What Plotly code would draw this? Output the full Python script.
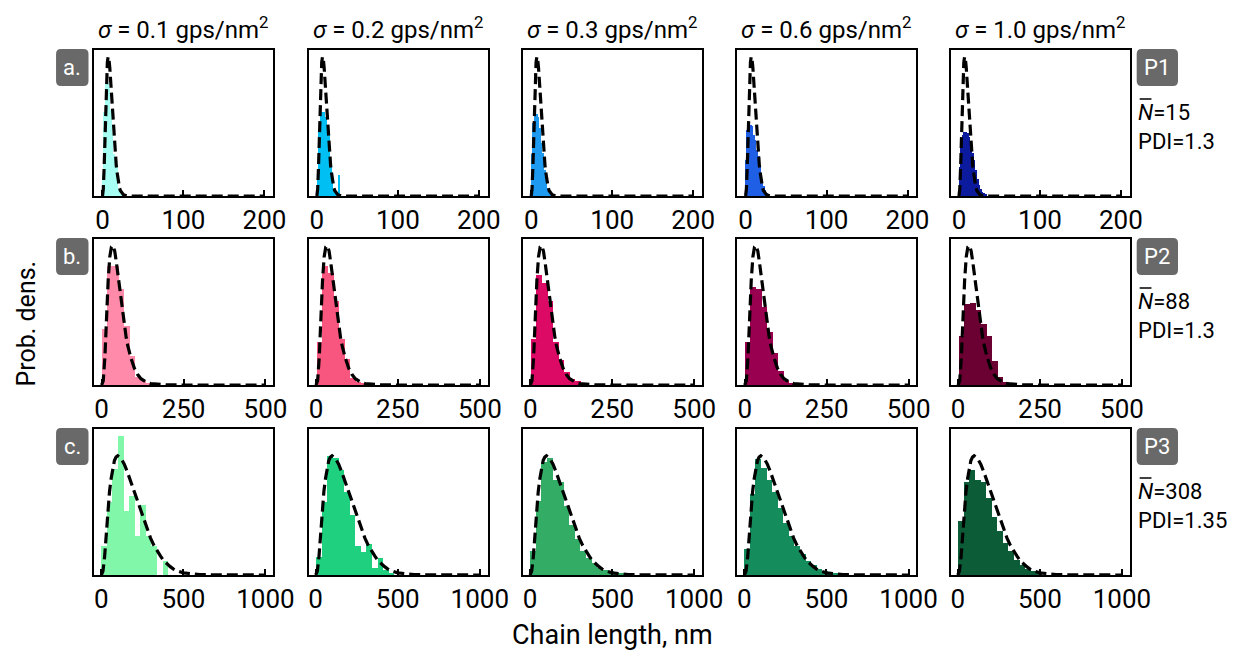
import plotly.graph_objects as go

W, H = 1258, 651

# ---------------- data ----------------
sigma_labels = ["0.1", "0.2", "0.3", "0.6", "1.0"]
row_letters = ["a.", "b.", "c."]
polymer_labels = ["P1", "P2", "P3"]
mean_lengths = ["15", "88", "308"]
pdi_values = ["1.3", "1.3", "1.35"]

row_xticks = [[0, 100, 200], [0, 250, 500], [0, 500, 1000]]
row_xrange = [[-10, 211], [-22, 524], [-42, 1048]]

# histogram bins (start, width) per row
row_bin_start = [0, 2, 2]
row_bin_width = [2, 17, 34]

hist_a = [
    [0.15, 0.6, 0.8, 0.81, 0.78, 0.62, 0.45, 0.3, 0.22, 0.21, 0.05, 0.01],
    [0.15, 0.47, 0.6, 0.6, 0.6, 0.57, 0.46, 0.44, 0.21, 0.1, 0.04, 0.02, 0.0, 0.15],
    [0.3, 0.52, 0.58, 0.59, 0.57, 0.49, 0.38, 0.31, 0.19, 0.1, 0.06, 0.03, 0.02],
    [0.26, 0.47, 0.5, 0.51, 0.5, 0.44, 0.4, 0.33, 0.29, 0.21, 0.12, 0.07, 0.04, 0.02, 0.01],
    [0.21, 0.4, 0.44, 0.46, 0.46, 0.45, 0.42, 0.37, 0.31, 0.26, 0.19, 0.12, 0.08, 0.05, 0.03, 0.02, 0.01],
]
hist_b = [
    [0.4, 0.85, 0.85, 0.69, 0.42, 0.21, 0.06, 0.03, 0.01],
    [0.31, 0.85, 0.8, 0.6, 0.33, 0.19, 0.05, 0.02, 0.01],
    [0.33, 0.79, 0.73, 0.6, 0.31, 0.18, 0.09, 0.04, 0.03, 0.015],
    [0.31, 0.7, 0.69, 0.56, 0.38, 0.23, 0.1, 0.03, 0.01],
    [0.35, 0.58, 0.59, 0.54, 0.44, 0.35, 0.17, 0.06, 0.02],
]
hist_c = [
    [0.24, 0.61, 0.89, 1.17, 0.54, 0.66, 0.33, 0.59, 0.33, 0.24, 0.0, 0.12, 0.0],
    [0.15, 0.61, 1.0, 0.98, 0.88, 0.70, 0.50, 0.24, 0.19, 0.26, 0.06, 0.14, 0.04, 0.02],
    [0.2, 0.62, 0.95, 0.98, 0.8, 0.78, 0.58, 0.42, 0.3, 0.2, 0.14, 0.1, 0.06, 0.04, 0.03, 0.02, 0.01],
    [0.22, 0.68, 0.97, 0.9, 0.8, 0.7, 0.56, 0.44, 0.33, 0.24, 0.18, 0.12, 0.08, 0.05, 0.03, 0.02, 0.01],
    [0.45, 0.78, 0.88, 0.80, 0.78, 0.65, 0.49, 0.37, 0.27, 0.2, 0.13, 0.08, 0.05, 0.035, 0.02],
]
row_hists = [hist_a, hist_b, hist_c]

# theoretical distributions (dashed), relative density
curve_a_x = [0, 1, 2, 3, 4, 5, 6, 7, 8, 9, 10, 11, 12, 13, 14, 15, 16, 17, 18, 19, 20, 21, 22, 24, 26, 30, 35, 60, 100, 150, 200]
curve_a_y = [0, 0.05, 0.2, 0.42, 0.65, 0.84, 0.96, 1.0, 0.98, 0.92, 0.83, 0.73, 0.63, 0.53, 0.44, 0.36, 0.28, 0.22, 0.17, 0.12,
             0.09, 0.06, 0.04, 0.02, 0.008, 0.002, 0, 0, 0, 0, 0]
curve_b_x = [0, 5, 10, 15, 20, 25, 30, 35, 40, 45, 50, 55, 60, 65, 70, 75, 80, 85, 90, 100, 110, 120, 130, 140, 150, 175, 200,
             250, 300, 400, 500]
curve_b_y = [0, 0.03, 0.2, 0.5, 0.75, 0.92, 0.99, 1.0, 0.96, 0.88, 0.79, 0.68, 0.58, 0.50, 0.42, 0.34, 0.28, 0.23, 0.19, 0.12,
             0.075, 0.045, 0.027, 0.016, 0.01, 0.003, 0.001, 0, 0, 0, 0]
curve_c_x = [0, 10, 20, 30, 40, 50, 60, 70, 80, 90, 100, 120, 140, 160, 180, 200, 220, 240, 260, 280, 300, 320, 340, 360, 380,
             400, 420, 440, 460, 500, 550, 600, 700, 800, 1000]
curve_c_y = [0, 0.03, 0.15, 0.35, 0.55, 0.70, 0.81, 0.90, 0.96, 0.99, 1.0, 0.98, 0.93, 0.86, 0.78, 0.70, 0.61, 0.53, 0.45, 0.38,
             0.31, 0.25, 0.20, 0.16, 0.12, 0.09, 0.07, 0.05, 0.035, 0.018, 0.008, 0.004, 0.001, 0, 0]
row_curves = [(curve_a_x, curve_a_y), (curve_b_x, curve_b_y), (curve_c_x, curve_c_y)]

row_colors = [
    ["#a6fff2", "#00bff2", "#1e9bf0", "#1f5fe6", "#0c1a9e"],
    ["#ff8aa9", "#f8557f", "#dc0a64", "#99004f", "#6b0033"],
    ["#80f7a9", "#1fd17e", "#33ad66", "#148c5c", "#0b5c37"],
]

# ---------------- layout geometry (pixels) ----------------
col_x0 = [96, 314, 532, 750, 967]
panel_w = 182
row_y0 = [50, 239, 429]
panel_h = 146

FONT = "Roboto"


def px(x):
    return x / W


def py(y):
    return 1 - y / H


def rrect(x0, y0, x1, y1, r):
    pts = [
        f"M {px(x0 + r)},{py(y0)}", f"L {px(x1 - r)},{py(y0)}", f"Q {px(x1)},{py(y0)} {px(x1)},{py(y0 + r)}",
        f"L {px(x1)},{py(y1 - r)}", f"Q {px(x1)},{py(y1)} {px(x1 - r)},{py(y1)}",
        f"L {px(x0 + r)},{py(y1)}", f"Q {px(x0)},{py(y1)} {px(x0)},{py(y1 - r)}",
        f"L {px(x0)},{py(y0 + r)}", f"Q {px(x0)},{py(y0)} {px(x0 + r)},{py(y0)}", "Z",
    ]
    return " ".join(pts)


fig = go.Figure()
layout = dict(
    width=W, height=H, margin=dict(l=0, r=0, t=0, b=0),
    paper_bgcolor="white", plot_bgcolor="white",
    showlegend=False, bargap=0, barmode="overlay",
    font=dict(family=FONT, color="black"),
)
annotations = []
shapes = []

for r in range(3):
    cx, cy = row_curves[r]
    ymax = max(max(cy), max(max(h) for h in row_hists[r])) * 1.047
    for c in range(5):
        idx = r * 5 + c + 1
        xa = "x" if idx == 1 else f"x{idx}"
        ya = "y" if idx == 1 else f"y{idx}"
        heights = row_hists[r][c]
        w = row_bin_width[r]
        centers = [row_bin_start[r] + w * (i + 0.5) for i in range(len(heights))]
        fig.add_trace(go.Bar(x=centers, y=heights, width=w, marker=dict(color=row_colors[r][c], line=dict(width=0)),
                             xaxis=xa, yaxis=ya, hoverinfo="skip"))
        fig.add_trace(go.Scatter(x=cx, y=cy, mode="lines", line=dict(color="black", width=3.2, dash="11px,5px"),
                                 xaxis=xa, yaxis=ya, hoverinfo="skip"))
        x0 = col_x0[c]
        y0 = row_y0[r]
        layout["xaxis" if idx == 1 else f"xaxis{idx}"] = dict(
            domain=[px(x0), px(x0 + panel_w)], anchor=ya, range=row_xrange[r],
            tickvals=row_xticks[r], ticktext=[str(v) for v in row_xticks[r]],
            ticks="inside", ticklen=6, tickwidth=1.5, tickcolor="black",
            showline=True, linecolor="black", linewidth=1.5, mirror=True,
            showgrid=False, zeroline=False, tickfont=dict(size=26, family=FONT, color="black"),
        )
        layout["yaxis" if idx == 1 else f"yaxis{idx}"] = dict(
            domain=[py(y0 + panel_h), py(y0)], anchor=xa, range=[0, ymax],
            showticklabels=False, ticks="", showline=True, linecolor="black", linewidth=1.5, mirror=True,
            showgrid=False, zeroline=False,
        )

# column titles
for c in range(5):
    annotations.append(dict(
        x=px(col_x0[c] + panel_w / 2), y=py(28), xref="paper", yref="paper",
        text=f"<i>σ</i> = {sigma_labels[c]} gps/nm<sup>2</sup>", showarrow=False,
        font=dict(size=24, family=FONT, color="black"), xanchor="center", yanchor="middle",
    ))

# row letter boxes and polymer boxes
for r in range(3):
    y0 = row_y0[r]
    shapes.append(dict(type="path", path=rrect(57, y0 - 1, 90, y0 + 36, 5), xref="paper", yref="paper",
                       fillcolor="#696969", line=dict(width=0)))
    annotations.append(dict(x=px(73.5), y=py(y0 + 17), xref="paper", yref="paper", text=row_letters[r],
                            showarrow=False, font=dict(size=22, family=FONT, color="white"),
                            xanchor="center", yanchor="middle"))
    shapes.append(dict(type="path", path=rrect(1156, y0 - 1, 1198, y0 + 36, 5), xref="paper", yref="paper",
                       fillcolor="#696969", line=dict(width=0)))
    annotations.append(dict(x=px(1177), y=py(y0 + 17), xref="paper", yref="paper", text=polymer_labels[r],
                            showarrow=False, font=dict(size=22, family=FONT, color="white"),
                            xanchor="center", yanchor="middle"))
    annotations.append(dict(x=px(1155), y=py(y0 + 62), xref="paper", yref="paper",
                            text=f"<i>N</i>={mean_lengths[r]}", showarrow=False,
                            font=dict(size=22, family=FONT, color="black"), xanchor="left", yanchor="middle"))
    shapes.append(dict(type="line", x0=px(1159), x1=px(1171), y0=py(y0 + 49), y1=py(y0 + 49),
                       xref="paper", yref="paper", line=dict(color="black", width=1.5)))
    annotations.append(dict(x=px(1155), y=py(y0 + 91), xref="paper", yref="paper",
                            text=f"PDI={pdi_values[r]}", showarrow=False,
                            font=dict(size=22, family=FONT, color="black"), xanchor="left", yanchor="middle"))

# axis titles
annotations.append(dict(x=px(623), y=py(635), xref="paper", yref="paper", text="Chain length, nm", showarrow=False,
                        font=dict(size=27, family=FONT, color="black"), xanchor="center", yanchor="middle"))
annotations.append(dict(x=px(26), y=py(324), xref="paper", yref="paper", text="Prob. dens.", showarrow=False,
                        textangle=-90, font=dict(size=25, family=FONT, color="black"),
                        xanchor="center", yanchor="middle"))

layout["annotations"] = annotations
layout["shapes"] = shapes
fig.update_layout(**layout)
fig.write_html(
    "out.html", config={"displayModeBar": False},
    post_script=("document.documentElement.style.overflow='hidden';"
                 "document.body.style.overflow='hidden';"
                 "document.body.style.margin='0';document.body.style.padding='0';"),
)
